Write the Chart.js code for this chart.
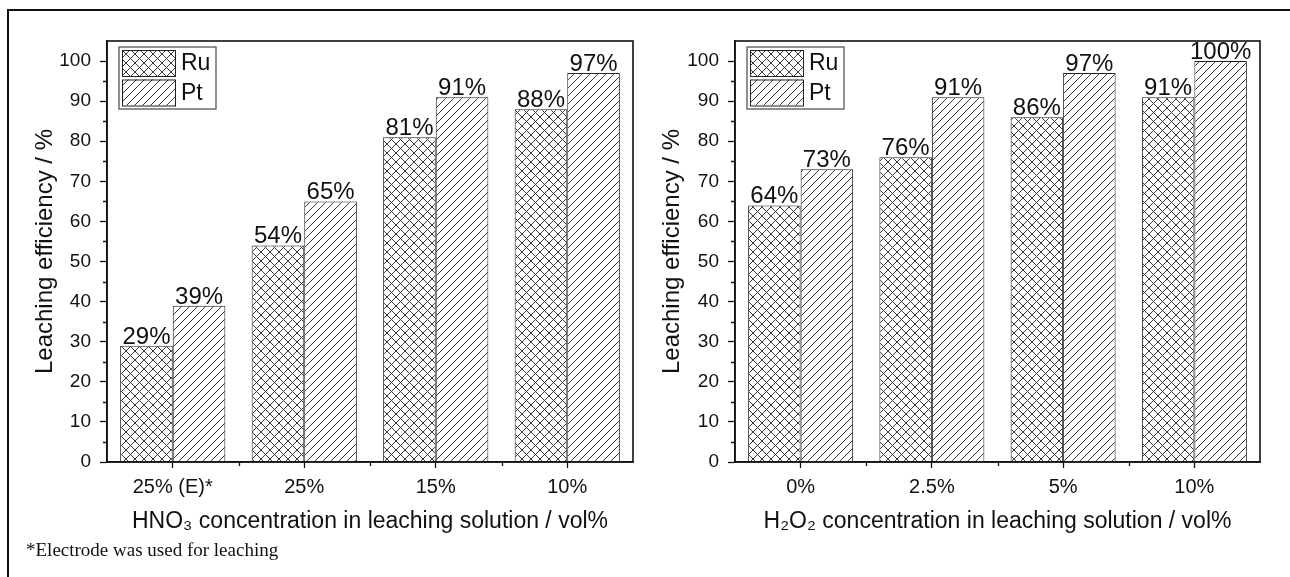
<!DOCTYPE html>
<html><head><meta charset="utf-8">
<script src="https://cdn.jsdelivr.net/npm/chart.js@4/dist/chart.umd.min.js"></script>
<style>
html,body{margin:0;padding:0;background:#fff;}
#wrap{position:relative;width:1290px;height:577px;overflow:hidden;background:#fff;}
canvas{position:absolute;top:0;}
#c1{left:0}
#c2{left:645px}
#frame{position:absolute;left:7px;top:9px;width:1300px;height:600px;border-left:2px solid #111;border-top:2px solid #111;pointer-events:none}
#note{position:absolute;left:26px;top:539px;font:19px "Liberation Serif","Times New Roman",serif;color:#111;white-space:nowrap}
</style></head><body>
<div id="wrap">
<canvas id="c1" width="645" height="577"></canvas>
<canvas id="c2" width="645" height="577"></canvas>
<div id="frame"></div>
<div id="note">*Electrode was used for leaching</div>
</div>
<script>
// ---- data ----
const seriesNames = ['Ru', 'Pt'];
const hno3Labels = ['25% (E)*', '25%', '15%', '10%'];
const hno3Ru = [29, 54, 81, 88];
const hno3Pt = [39, 65, 91, 97];
const h2o2Labels = ['0%', '2.5%', '5%', '10%'];
const h2o2Ru = [64, 76, 86, 91];
const h2o2Pt = [73, 91, 97, 100];
const hno3Title = 'HNO\u2083 concentration in leaching solution / vol%';
const h2o2Title = 'H\u2082O\u2082 concentration in leaching solution / vol%';
const yTitle = 'Leaching efficiency / %';

Chart.defaults.font.family = '"Liberation Sans", Arial, sans-serif';
Chart.defaults.color = '#111';

function makePattern(ctx, kind) {
  const s = kind === 'cross' ? 9 : 8;
  const c = document.createElement('canvas');
  c.width = s; c.height = s;
  const g = c.getContext('2d');
  g.fillStyle = '#fff'; g.fillRect(0, 0, s, s);
  g.strokeStyle = '#383838'; g.lineWidth = 1;
  g.beginPath();
  g.moveTo(-1, s + 1); g.lineTo(s + 1, -1);
  g.moveTo(-1, 1); g.lineTo(1, -1);
  g.moveTo(s - 1, s + 1); g.lineTo(s + 1, s - 1);
  if (kind === 'cross') {
    g.moveTo(-1, -1); g.lineTo(s + 1, s + 1);
    g.moveTo(-1, s - 1); g.lineTo(1, s + 1);
    g.moveTo(s - 1, -1); g.lineTo(s + 1, 1);
  }
  g.stroke();
  return ctx.createPattern(c, 'repeat');
}

const figPlugin = {
  id: 'fig',
  afterDatasetsDraw(chart) {
    const ctx = chart.ctx;
    ctx.save();
    ctx.font = '24px "Liberation Sans", Arial, sans-serif';
    ctx.fillStyle = '#111';
    ctx.textAlign = 'center';
    ctx.textBaseline = 'alphabetic';
    chart.data.datasets.forEach((ds, i) => {
      chart.getDatasetMeta(i).data.forEach((bar, j) => {
        ctx.fillText(ds.data[j] + '%', bar.x, bar.y - 2);
      });
    });
    ctx.restore();
  },
  afterDraw(chart) {
    const ctx = chart.ctx, a = chart.chartArea, x = chart.scales.x, y = chart.scales.y;
    ctx.save();
    ctx.strokeStyle = '#111';
    ctx.lineWidth = 1.6;
    ctx.strokeRect(a.left, a.top, a.right - a.left, a.bottom - a.top);
    // minor ticks
    ctx.lineWidth = 1.3;
    ctx.beginPath();
    for (let v = 5; v < 105; v += 10) {
      const py = Math.round(y.getPixelForValue(v)) + 0.5;
      ctx.moveTo(a.left - 4, py); ctx.lineTo(a.left, py);
    }
    const n = chart.data.labels.length;
    for (let i = 1; i < n; i++) {
      const px = Math.round((x.getPixelForValue(i - 1) + x.getPixelForValue(i)) / 2) + 0.5;
      ctx.moveTo(px, a.bottom); ctx.lineTo(px, a.bottom + 4);
    }
    ctx.stroke();
    // legend
    const lx = a.left + 12, ly = a.top + 6, lw = 97, lh = 62;
    ctx.strokeStyle = '#555'; ctx.lineWidth = 1.3;
    ctx.fillStyle = '#fff';
    ctx.fillRect(lx, ly, lw, lh);
    ctx.strokeRect(lx, ly, lw, lh);
    ctx.font = '23px "Liberation Sans", Arial, sans-serif';
    ctx.textAlign = 'left'; ctx.textBaseline = 'middle';
    chart.data.datasets.forEach((ds, i) => {
      const sy = ly + 3 + i * 29.5, sh = 26;
      ctx.fillStyle = ds.backgroundColor;
      ctx.fillRect(lx + 3, sy, 53, sh);
      ctx.strokeStyle = '#222'; ctx.lineWidth = 1;
      ctx.strokeRect(lx + 3.5, sy + 0.5, 53, sh);
      ctx.fillStyle = '#111';
      ctx.fillText(ds.label, lx + 62, sy + sh / 2 + 1);
    });
    ctx.restore();
  }
};

function makeChart(id, labels, ru, pt, xTitle, yTitlePad, yWidth, padRight) {
  const cv = document.getElementById(id);
  const ctx = cv.getContext('2d');
  const crossP = makePattern(ctx, 'cross');
  const diagP = makePattern(ctx, 'diag');
  return new Chart(cv, {
    type: 'bar',
    data: {
      labels: labels,
      datasets: [
        { label: seriesNames[0], data: ru, backgroundColor: crossP, borderColor: '#222', borderWidth: 1 },
        { label: seriesNames[1], data: pt, backgroundColor: diagP, borderColor: '#222', borderWidth: 1 }
      ]
    },
    options: {
      responsive: false,
      animation: false,
      devicePixelRatio: 1,
      events: [],
      layout: { padding: { top: 41, right: padRight, bottom: 0, left: 0 } },
      plugins: { legend: { display: false }, tooltip: { enabled: false } },
      datasets: { bar: { categoryPercentage: 0.8, barPercentage: 1 } },
      scales: {
        x: {
          offset: true,
          grid: { offset: false, drawOnChartArea: false, tickLength: 6, tickColor: '#111', tickWidth: 1.3 },
          border: { color: '#111', width: 1.6 },
          ticks: { color: '#111', font: { size: 20 }, padding: 7, maxRotation: 0, autoSkip: false },
          title: { display: true, text: xTitle, color: '#111', font: { size: 23 }, padding: { top: 0, bottom: 42 } },
          afterFit(s) { s.height = 115; }
        },
        y: {
          min: 0, max: 105,
          grid: { drawOnChartArea: false, tickLength: 7, tickColor: '#111', tickWidth: 1.3 },
          border: { color: '#111', width: 1.6 },
          ticks: { stepSize: 10, includeBounds: false, color: '#111', font: { size: 19 }, padding: 9 },
          title: { display: true, text: yTitle, color: '#111', font: { size: 24 }, padding: { top: yTitlePad, bottom: 0 } },
          afterFit(s) { s.width = yWidth; }
        }
      }
    },
    plugins: [figPlugin]
  });
}

makeChart('c1', hno3Labels, hno3Ru, hno3Pt, hno3Title, 31, 107, 12);
makeChart('c2', h2o2Labels, h2o2Ru, h2o2Pt, h2o2Title, 13, 90, 30);
</script>
</body></html>
